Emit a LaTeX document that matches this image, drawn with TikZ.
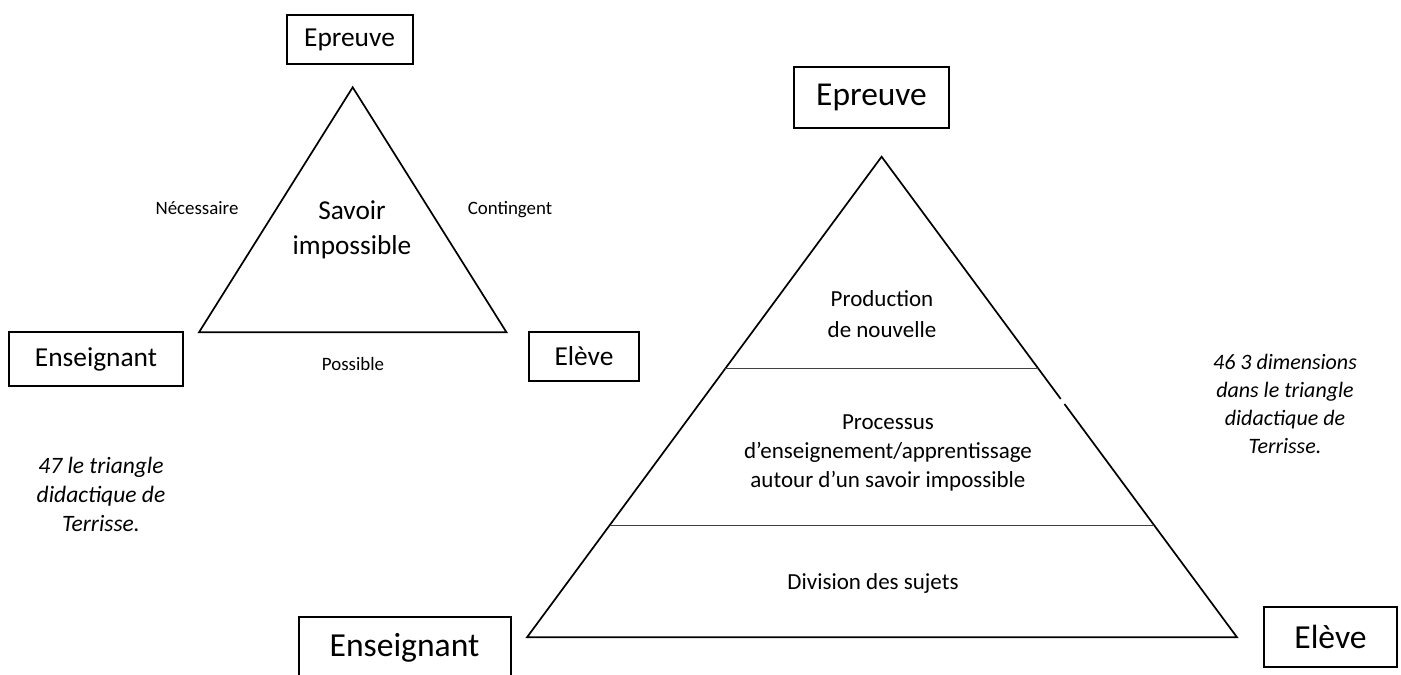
\documentclass[tikz,border=0pt]{standalone}
\usepackage{fontspec}
\setmainfont{Carlito}
\usetikzlibrary{calc}
\tikzset{
  boxnode/.style={draw=black, line width=2pt, inner sep=0pt, align=center},
  tri/.style={draw=black, line width=1.7pt, line join=miter},
  sep/.style={draw=black!75, line width=1.4pt},
  lbl/.style={inner sep=0pt, align=center},
}
\newcommand{\fsz}[2]{\fontsize{#1}{#2}\selectfont}
\begin{document}
\begin{tikzpicture}[x=1pt,y=-1pt]
\useasboundingbox (0,0) rectangle (1401,675);
\clip (0,0) rectangle (1401,675);
\fill[white] (0,0) rectangle (1401,675);

% ---------- left triangle ----------
\coordinate (LA) at (352.7,87.3);
\coordinate (LB) at (199,332.3);
\coordinate (LC) at (506.5,332.3);
\draw[tri] (LA) -- (LB) -- (LC) -- cycle;

\node[boxnode, minimum width=126pt, minimum height=49pt, font=\fsz{27.4}{33}] (lep) at (349.5,39.5) {Epreuve};
\node[boxnode, minimum width=174pt, minimum height=54pt, font=\fsz{27.4}{33}] (lens) at (96,359) {Enseignant};
\node[boxnode, minimum width=110pt, minimum height=49pt, font=\fsz{27.4}{33}] (lel) at (584,356.5) {Elève};

\node[lbl, anchor=base, font=\fsz{18.9}{23}] (nec) at (197,214) {Nécessaire};
\node[lbl, anchor=base, font=\fsz{18.9}{23}] (con) at (510,214) {Contingent};
\node[lbl, anchor=base, font=\fsz{18.9}{23}] (pos) at (353,370) {Possible};
\node[lbl, font=\fsz{27.3}{35}] (sav) at (352,230) {Savoir\\impossible};

\node[lbl, font=\itshape\fsz{23.5}{29}] (lcap) at (101,494) {47 le triangle\\didactique de\\Terrisse.};

% ---------- right triangle ----------
\coordinate (RA) at (881.6,156.7);
\coordinate (RB) at (527,637.3);
\coordinate (RC) at (1237,637.3);
\coordinate (G1) at ($(RA)!0.504!(RC)$);
\coordinate (G2) at ($(RA)!0.5146!(RC)$);
\draw[tri] (G1) -- (RA) -- (RB) -- (RC) -- (G2);

\coordinate (S1L) at ($(RA)!0.4403!(RB)$);
\coordinate (S1R) at ($(RA)!0.4403!(RC)$);
\coordinate (S2L) at ($(RA)!0.767!(RB)$);
\coordinate (S2R) at ($(RA)!0.767!(RC)$);
\draw[sep] (S1L) -- (S1R);
\draw[sep] (S2L) -- (S2R);

\node[boxnode, minimum width=155pt, minimum height=61pt, font=\fsz{33.4}{40}] (rep) at (871.5,97.5) {Epreuve};
\node[boxnode, minimum width=212pt, minimum height=62pt, font=\fsz{33.6}{40}] (rens) at (404.5,648) {Enseignant};
\node[boxnode, minimum width=133pt, minimum height=60pt, font=\fsz{33.6}{40}] (rel) at (1330.5,637) {Elève};

\node[lbl, font=\fsz{23}{31}] (prod) at (882,314.5) {Production\\de nouvelle};
\node[lbl, font=\fsz{23}{29}] (proc) at (888,453) {Processus\\d’enseignement/apprentissage\\autour d’un savoir impossible};
\node[lbl, font=\fsz{23}{29}] (div) at (873,583) {Division des sujets};

\node[lbl, font=\itshape\fsz{22}{28}] (rcap) at (1285,404) {46 3 dimensions\\dans le triangle\\didactique de\\Terrisse.};
\end{tikzpicture}
\end{document}
